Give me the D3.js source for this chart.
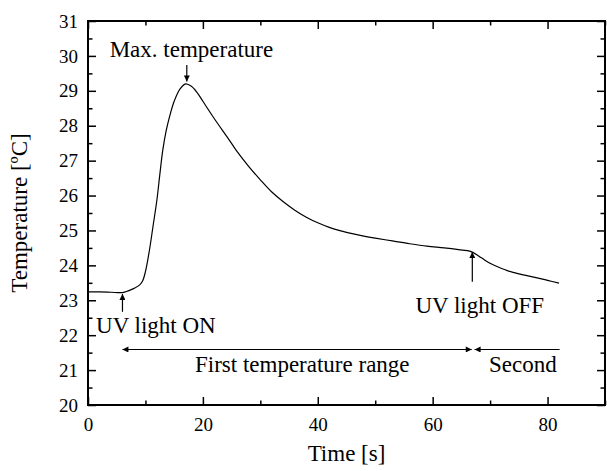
<!DOCTYPE html>
<html>
<head>
<meta charset="utf-8">
<script src="https://cdn.jsdelivr.net/npm/d3@7"></script>
<style>
  html, body { margin: 0; padding: 0; background: #fff; }
  svg text { font-family: "Liberation Serif", "Times New Roman", serif; fill: #000; }
</style>
</head>
<body>
<svg id="chart" width="607" height="471"></svg>
<script>
// time [s] and temperature [ºC]
var time = [0, 2, 4, 6, 7, 8, 9, 9.5, 10, 10.7, 11.3, 12, 12.5, 13, 13.6, 14.2, 15, 16, 17, 18, 19, 20,
            22, 24.6, 26, 28, 30, 32, 34, 36, 38, 40, 42, 44, 46, 48, 50, 53, 56, 59, 62, 64.5, 66.6,
            68, 69, 70, 71, 72, 73, 74, 76, 78, 80, 82];
var temperature = [23.24, 23.24, 23.23, 23.22, 23.27, 23.34, 23.44, 23.55, 23.82, 24.44, 25.1, 25.88, 26.6, 27.28, 27.85, 28.26, 28.7, 29.05, 29.2, 29.13, 28.95, 28.7,
                   28.2, 27.59, 27.25, 26.83, 26.45, 26.1, 25.82, 25.58, 25.38, 25.22, 25.09, 24.99, 24.91, 24.84, 24.78, 24.70, 24.62, 24.55, 24.50, 24.45, 24.40,
                   24.27, 24.16, 24.06, 23.98, 23.91, 23.85, 23.80, 23.72, 23.65, 23.57, 23.49];

var xTicks = [0, 20, 40, 60, 80];
var xMinorTicks = [10, 30, 50, 70, 90];
var yTicks = [20, 21, 22, 23, 24, 25, 26, 27, 28, 29, 30, 31];
var yMinorTicks = [20.5, 21.5, 22.5, 23.5, 24.5, 25.5, 26.5, 27.5, 28.5, 29.5, 30.5];

(function () {
  var svg = d3.select('#chart');
  var pl = 88, pr = 605, pt = 21, pb = 405;

  var x = d3.scaleLinear().domain([0, 90]).range([pl, pr]);
  var y = d3.scaleLinear().domain([20, 31]).range([pb, pt]);

  // axes: ticks point inward, mirrored on top and right
  function styleAxis(g) {
    g.select('.domain').remove();
    g.selectAll('.tick line').attr('stroke', '#000').attr('stroke-width', 1.5);
    g.selectAll('.tick text').style('font-size', '19px').style('font-family', '"Liberation Serif", serif');
  }

  svg.append('g').attr('transform', 'translate(0,' + pb + ')')
    .call(d3.axisBottom(x).tickValues(xTicks).tickSize(-8).tickPadding(13).tickFormat(d3.format('d')))
    .call(styleAxis);
  svg.append('g').attr('transform', 'translate(0,' + pb + ')')
    .call(d3.axisBottom(x).tickValues(xMinorTicks).tickSize(-4.5).tickFormat(''))
    .call(styleAxis);
  svg.append('g').attr('transform', 'translate(0,' + pt + ')')
    .call(d3.axisTop(x).tickValues(xTicks).tickSize(-8).tickFormat(''))
    .call(styleAxis);
  svg.append('g').attr('transform', 'translate(0,' + pt + ')')
    .call(d3.axisTop(x).tickValues(xMinorTicks).tickSize(-4.5).tickFormat(''))
    .call(styleAxis);

  svg.append('g').attr('transform', 'translate(' + pl + ',0)')
    .call(d3.axisLeft(y).tickValues(yTicks).tickSize(-8).tickPadding(10).tickFormat(d3.format('d')))
    .call(styleAxis);
  svg.append('g').attr('transform', 'translate(' + pl + ',0)')
    .call(d3.axisLeft(y).tickValues(yMinorTicks).tickSize(-4.5).tickFormat(''))
    .call(styleAxis);
  svg.append('g').attr('transform', 'translate(' + pr + ',0)')
    .call(d3.axisRight(y).tickValues(yTicks).tickSize(-8).tickFormat(''))
    .call(styleAxis);
  svg.append('g').attr('transform', 'translate(' + pr + ',0)')
    .call(d3.axisRight(y).tickValues(yMinorTicks).tickSize(-4.5).tickFormat(''))
    .call(styleAxis);

  // frame
  svg.append('rect')
    .attr('x', pl).attr('y', pt)
    .attr('width', pr - pl).attr('height', pb - pt)
    .attr('fill', 'none').attr('stroke', '#000').attr('stroke-width', 2);

  // curve
  var line = d3.line()
    .x(function (d, i) { return x(time[i]); })
    .y(function (d) { return y(d); })
    .curve(d3.curveCatmullRom.alpha(0.5));

  svg.append('path')
    .datum(temperature)
    .attr('d', line)
    .attr('fill', 'none')
    .attr('stroke', '#000')
    .attr('stroke-width', 1.2);

  // arrow head
  svg.append('defs').append('marker')
    .attr('id', 'head')
    .attr('viewBox', '0 0 10 10')
    .attr('refX', 10).attr('refY', 5)
    .attr('markerUnits', 'userSpaceOnUse')
    .attr('markerWidth', 8).attr('markerHeight', 6)
    .attr('orient', 'auto-start-reverse')
    .append('path')
    .attr('d', 'M0,0 L10,5 L0,10 Z')
    .attr('fill', '#000');

  function arrow(x1, y1, x2, y2, both) {
    var p = svg.append('line')
      .attr('x1', x(x1)).attr('y1', y(y1))
      .attr('x2', x(x2)).attr('y2', y(y2))
      .attr('stroke', '#000').attr('stroke-width', 1.2)
      .attr('marker-end', 'url(#head)');
    if (both) p.attr('marker-start', 'url(#head)');
    return p;
  }

  function label(text, tx, ty, anchor) {
    svg.append('text')
      .attr('x', x(tx)).attr('y', y(ty))
      .attr('text-anchor', anchor || 'middle')
      .style('font-size', '23px')
      .text(text);
  }

  // Max. temperature
  arrow(17.2, 29.74, 17.2, 29.27);
  label('Max. temperature', 18.0, 29.96);

  // UV light ON
  arrow(6.0, 22.67, 6.0, 23.18);
  label('UV light ON', 1.4, 22.05, 'start');

  // UV light OFF
  arrow(66.9, 23.53, 66.9, 24.38);
  label('UV light OFF', 68.2, 22.63);

  // ranges
  arrow(66.8, 21.59, 6.0, 21.59, true);
  arrow(82.1, 21.59, 67.3, 21.59);
  label('First temperature range', 37.3, 20.95);
  label('Second', 75.7, 20.95);

  // axis titles
  svg.append('text')
    .attr('x', (pl + pr) / 2).attr('y', 461)
    .attr('text-anchor', 'middle')
    .style('font-size', '23px')
    .text('Time [s]');

  svg.append('text')
    .attr('transform', 'translate(27,' + (pt + pb) / 2 + ') rotate(-90)')
    .attr('text-anchor', 'middle')
    .style('font-size', '23px')
    .text('Temperature [ºC]');
})();
</script>
</body>
</html>
